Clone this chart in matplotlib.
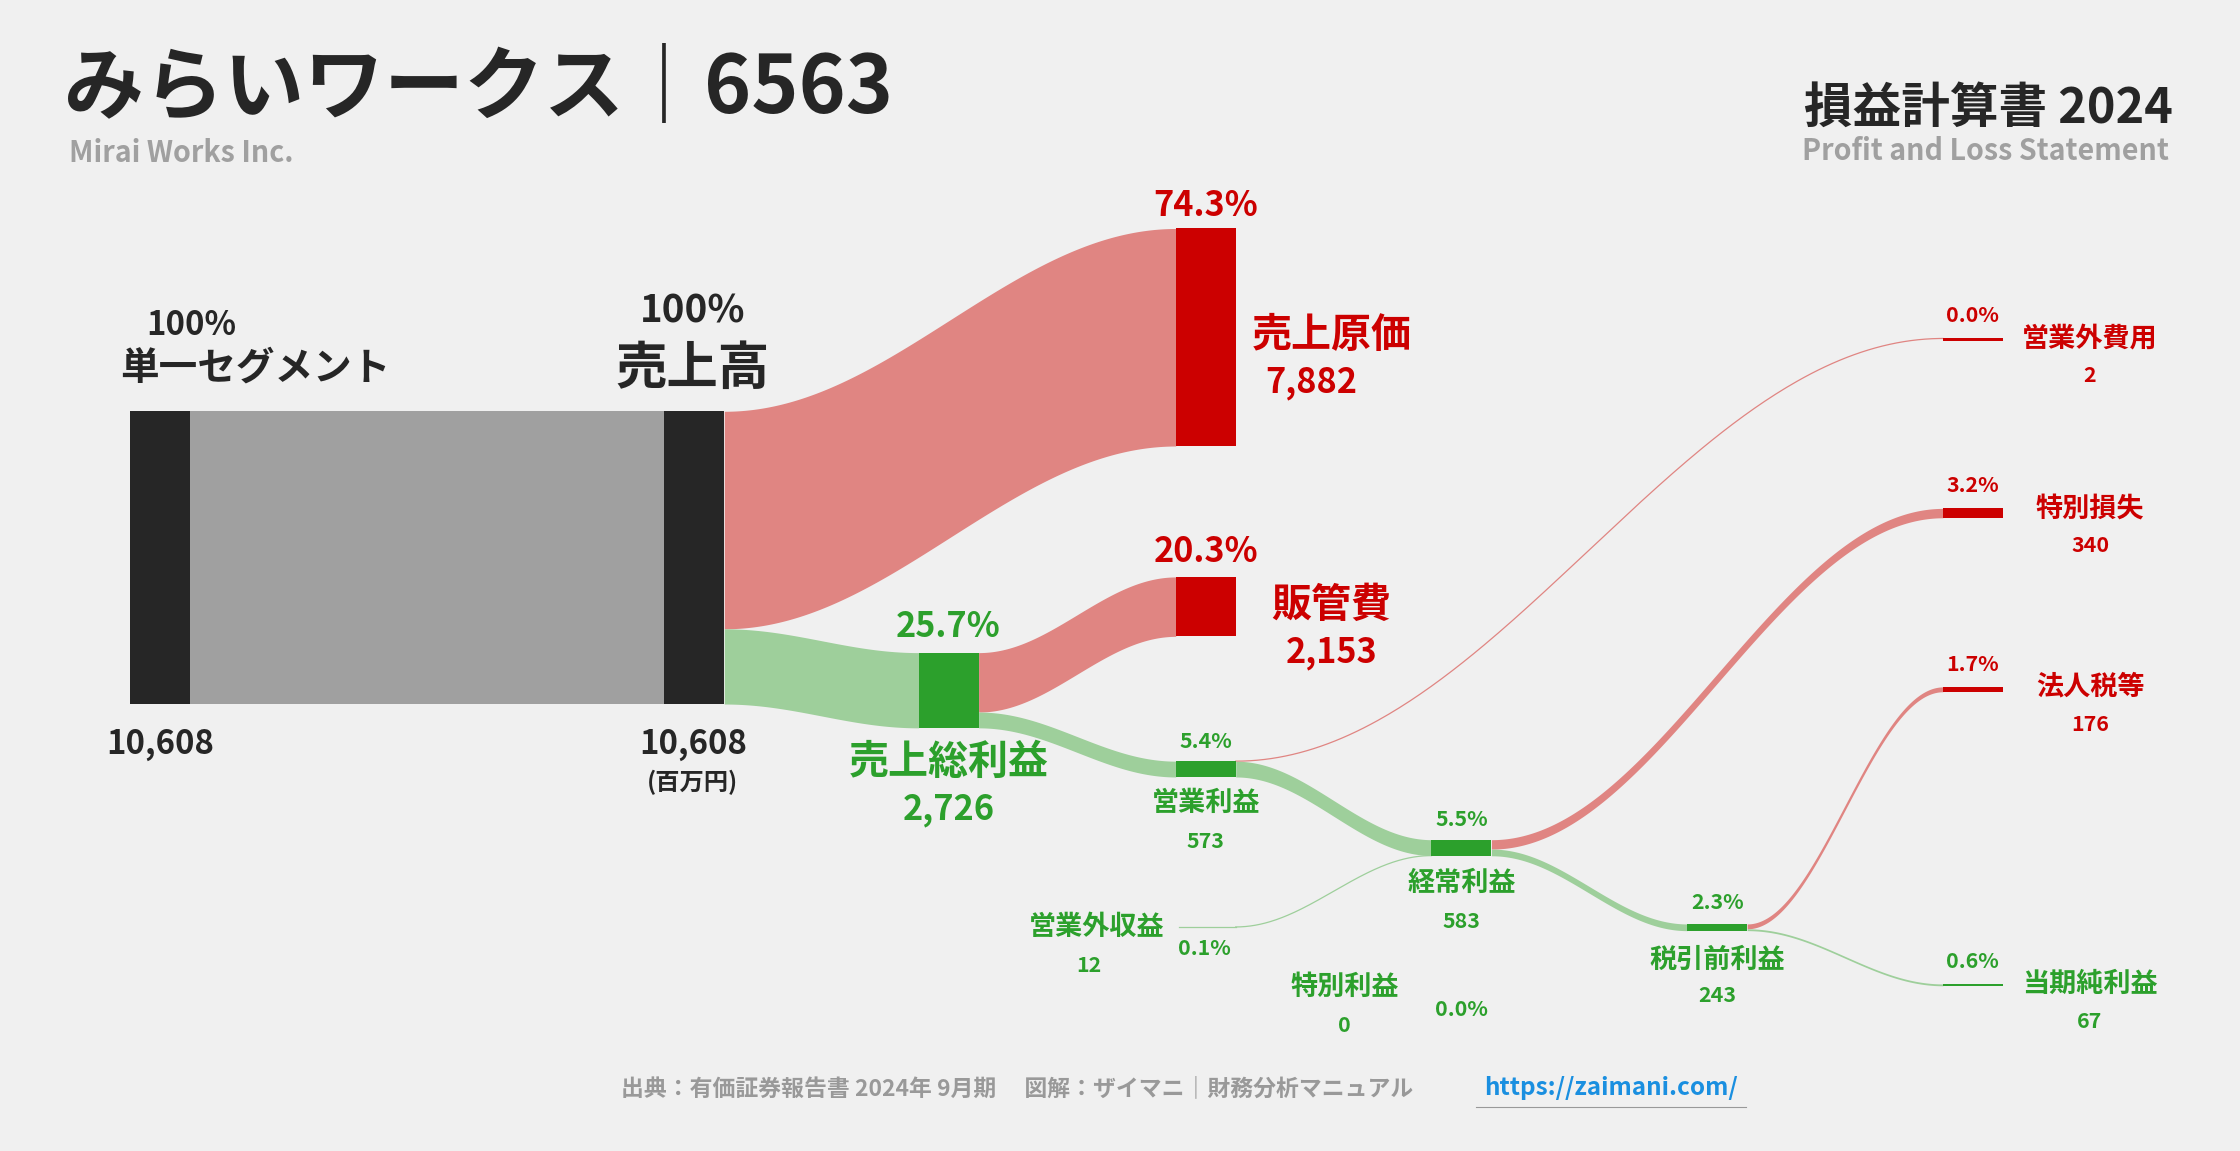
import numpy as np
import matplotlib
matplotlib.use("Agg")
import matplotlib.pyplot as plt

# ---- data (百万円) ----
revenue = 10608
segment_names = ["単一セグメント"]
cost_of_sales = 7882
sga = 2153
gross_profit = 2726
operating_profit = 573
nonop_income = 12
nonop_expense = 2
ordinary_profit = 583
extra_income = 0
extra_loss = 340
pretax_profit = 243
taxes = 176
net_income = 67

FONT = "Noto Sans CJK JP"
W, H = 1568, 806
fig = plt.figure(figsize=(22.4, 11.51), dpi=100, facecolor="#f0f0f0")
ax = fig.add_axes([0, 0, 1, 1])
ax.set_xlim(0, W); ax.set_ylim(H, 0); ax.axis("off")
ax.set_facecolor("#f0f0f0")

K = 205.0 / revenue   # px per unit
BLACK = "#262626"; RED = "#cc0000"; REDF = "#e08582"
GREEN = "#2ca02c"; GREENF = "#9ecf9b"; GRAY = "#a0a0a0"
NW = 42

def fs(em):
    return em * (W * 0 + 2240 / 1568) * 0.72

def node(x, top, val, color):
    h = max(val * K, 1.5)
    ax.add_patch(plt.Rectangle((x, top), NW, h, color=color, lw=0, zorder=3))

def band(x0, x1, y0, y1, val, color, alpha=1.0):
    h = val * K
    t = np.linspace(0, 1, 200)
    s = (1 - np.cos(np.pi * t)) / 2
    xs = x0 + (x1 - x0) * t
    top = y0 + (y1 - y0) * s
    if h < 1.2:
        ax.plot(xs, top + h / 2, color=color, lw=0.9, zorder=2)
    else:
        ax.fill_between(xs, top, top + h, color=color, lw=0, zorder=2)

# nodes tops (layout)
X = dict(seg=91, sales=465, cost=823, gross=643, sga=823, op=823, ordi=1002, pre=1181, right=1360)
T = dict(seg=288, sales=288, cost=160, gross=457, sga=404, op=533, ordi=588, pre=647,
         nexp=237, xloss=356, tax=481, net=689, ninc=649)

# flows
band(X["seg"] + NW, X["sales"], T["seg"], T["sales"], revenue, GRAY)
band(X["sales"] + NW, X["cost"], T["sales"], T["cost"], cost_of_sales, REDF)
band(X["sales"] + NW, X["gross"], T["sales"] + cost_of_sales * K, T["gross"], gross_profit, GREENF)
band(X["gross"] + NW, X["sga"], T["gross"], T["sga"], sga, REDF)
band(X["gross"] + NW, X["op"], T["gross"] + sga * K, T["op"], operating_profit, GREENF)
band(X["op"] + NW, X["right"], T["op"], T["nexp"], nonop_expense, REDF)
band(X["op"] + NW, X["ordi"], T["op"] + nonop_expense * K, T["ordi"], operating_profit - nonop_expense, GREENF)
ax.plot([825, X["op"] + NW], [T["ninc"], T["ninc"]], color=GREENF, lw=0.9, zorder=2)
band(X["op"] + NW, X["ordi"], T["ninc"], T["ordi"] + (operating_profit - nonop_expense) * K, nonop_income, GREENF)
band(X["ordi"] + NW, X["right"], T["ordi"], T["xloss"], extra_loss, REDF)
band(X["ordi"] + NW, X["pre"], T["ordi"] + extra_loss * K, T["pre"], pretax_profit, GREENF)
band(X["pre"] + NW, X["right"], T["pre"], T["tax"], taxes, REDF)
band(X["pre"] + NW, X["right"], T["pre"] + taxes * K, T["net"], net_income, GREENF)

node(X["seg"], T["seg"], revenue, BLACK)
node(X["sales"], T["sales"], revenue, BLACK)
node(X["cost"], T["cost"], cost_of_sales, RED)
node(X["sga"], T["sga"], sga, RED)
node(X["gross"], T["gross"], gross_profit, GREEN)
node(X["op"], T["op"], operating_profit, GREEN)
node(X["ordi"], T["ordi"], ordinary_profit, GREEN)
node(X["pre"], T["pre"], pretax_profit, GREEN)
node(X["right"], T["nexp"], nonop_expense, RED)
node(X["right"], T["xloss"], extra_loss, RED)
node(X["right"], T["tax"], taxes, RED)
node(X["right"], T["net"], net_income, GREEN)

def txt(x, y, s, em, color=BLACK, ha="center", w="bold"):
    ax.text(x, y, s, fontsize=fs(em), color=color, ha=ha, va="center",
            fontfamily=FONT, fontweight=w)

def pct(v):
    return f"{v / revenue * 100:.1f}%"

txt(45, 62, "みらいワークス｜6563", 56, ha="left")
txt(48, 107, "Mirai Works Inc.", 20, GRAY, ha="left")
txt(1521, 76, "損益計算書 2024", 34, ha="right")
txt(1518, 106, "Profit and Loss Statement", 20, GRAY, ha="right")

txt(134, 228, "100%", 23); txt(179, 258, segment_names[0], 27)
txt(485, 218, "100%", 27); txt(485, 258, "売上高", 36)
txt(112, 521, f"{revenue:,}", 23); txt(485, 521, f"{revenue:,}", 23)
txt(485, 548, "(百万円)", 17)

txt(844, 144, pct(cost_of_sales), 24, RED)
txt(932, 235, "売上原価", 28, RED); txt(918, 268, f"{cost_of_sales:,}", 24, RED)
txt(844, 386, pct(sga), 24, RED)
txt(932, 424, "販管費", 28, RED); txt(932, 457, f"{sga:,}", 24, RED)
txt(664, 439, pct(gross_profit), 24, GREEN)
txt(664, 534, "売上総利益", 28, GREEN); txt(664, 567, f"{gross_profit:,}", 24, GREEN)
txt(844, 519, pct(operating_profit), 15, GREEN)
txt(844, 562, "営業利益", 19, GREEN); txt(844, 589, f"{operating_profit:,}", 15, GREEN)
txt(1023, 574, pct(ordinary_profit), 15, GREEN)
txt(1023, 618, "経常利益", 19, GREEN); txt(1023, 645, f"{ordinary_profit:,}", 15, GREEN)
txt(1202, 632, pct(pretax_profit), 15, GREEN)
txt(1202, 672, "税引前利益", 19, GREEN); txt(1202, 697, f"{pretax_profit:,}", 15, GREEN)
txt(815, 649, "営業外収益", 19, GREEN, ha="right"); txt(762, 676, f"{nonop_income:,}", 15, GREEN)
txt(843, 664, pct(nonop_income), 15, GREEN)
txt(941, 691, "特別利益", 19, GREEN); txt(941, 718, f"{extra_income:,}", 15, GREEN)
txt(1023, 707, pct(extra_income), 15, GREEN)

for label, v, y, c in [("営業外費用", nonop_expense, T["nexp"], RED),
                       ("特別損失", extra_loss, T["xloss"], RED),
                       ("法人税等", taxes, T["tax"], RED),
                       ("当期純利益", net_income, T["net"], GREEN)]:
    txt(1381, y - 16, pct(v), 15, c)
    txt(1463, y, label, 19, c)
    txt(1463, y + 26, f"{v:,}", 15, c)

txt(712, 762, "出典：有価証券報告書 2024年 9月期　 図解：ザイマニ｜財務分析マニュアル", 16, "#999999")
txt(1128, 762, "https://zaimani.com/", 17, "#1a8fe0")
ax.plot([1033, 1222], [775, 775], color="#999999", lw=0.8)

fig.savefig("out.png", dpi=100, facecolor="#f0f0f0")
